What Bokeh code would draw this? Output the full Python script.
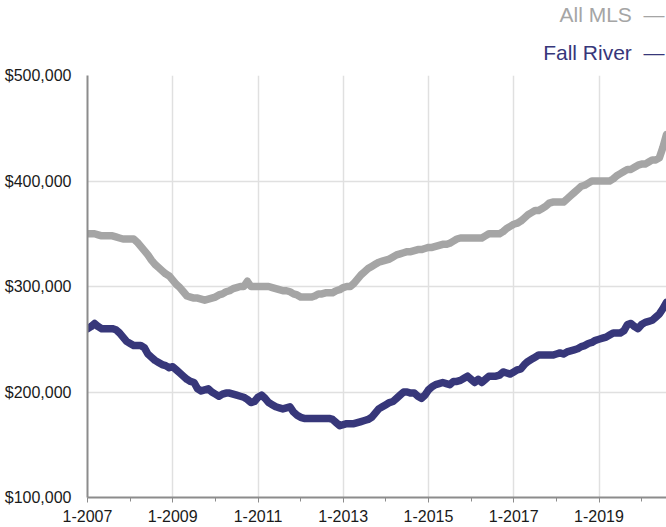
from bokeh.plotting import figure
from bokeh.models import ColumnDataSource, FixedTicker, NumeralTickFormatter, Title, Range1d
from bokeh.embed import file_html
from bokeh.resources import INLINE

# Monthly median price (thousands of $), Jan 2007 .. Aug 2020
all_mls_k = [
    350, 350, 350, 349, 348, 348, 348, 348, 347, 346, 345, 345,
    345, 345, 342, 338, 334, 330, 325, 321, 318, 315, 312, 310,
    306, 302, 299, 295, 291, 290, 289, 289, 288, 287, 288, 289,
    290, 292, 293, 295, 296, 298, 299, 300, 300, 305, 300, 300,
    300, 300, 300, 300, 299, 298, 297, 296, 296, 295, 293, 292,
    290, 290, 290, 290, 291, 293, 293, 294, 294, 294, 296, 297,
    299, 300, 300, 303, 307, 311, 314, 317, 319, 321, 323, 324,
    325, 326, 328, 330, 331, 332, 333, 333, 334, 335, 335, 336,
    337, 337, 338, 339, 340, 340, 341, 343, 345, 346, 346, 346,
    346, 346, 346, 346, 348, 350, 350, 350, 350, 352, 355, 357,
    359, 360, 362, 365, 368, 370, 372, 372, 374, 376, 379, 380,
    380, 380, 380, 383, 386, 389, 392, 395, 396, 398, 400, 400,
    400, 400, 400, 400, 402, 405, 407, 409, 411, 411, 413, 415,
    416, 416, 418, 420, 420, 422, 432, 444,
]
fall_river_k = [
    260, 262, 265, 262, 260, 260, 260, 260, 259, 256, 252, 248,
    246, 244, 244, 244, 242, 236, 233, 230, 228, 226, 225, 223,
    224, 221, 218, 215, 212, 210, 209, 203, 201, 202, 203, 200,
    198, 196, 198, 199, 199, 198, 197, 196, 195, 193, 190, 191,
    195, 197, 194, 190, 188, 186, 185, 184, 185, 186, 181, 178,
    176, 175, 175, 175, 175, 175, 175, 175, 175, 174, 171, 168,
    169, 170, 170, 170, 171, 172, 173, 174, 176, 180, 184, 186,
    188, 190, 191, 194, 197, 200, 200, 199, 199, 196, 194, 197,
    202, 205, 207, 208, 209, 208, 207, 210, 210, 211, 213, 215,
    212, 209, 212, 209, 212, 215, 215, 215, 216, 219, 218, 217,
    219, 221, 222, 226, 229, 231, 233, 235, 235, 235, 235, 235,
    236, 237, 236, 238, 239, 240, 241, 243, 244, 246, 247, 249,
    250, 251, 252, 254, 256, 256, 256, 258, 264, 265, 262, 260,
    264, 266, 267, 268, 271, 274, 279, 285,
]
month_index = list(range(len(all_mls_k)))
tick_months = [0, 24, 48, 72, 96, 120, 144]
tick_labels = ["1-2007", "1-2009", "1-2011", "1-2013", "1-2015", "1-2017", "1-2019"]
minor_months = [12, 36, 60, 84, 108, 132, 156]
y_ticks = [100000, 200000, 300000, 400000, 500000]
series_names = ["All MLS", "Fall River"]

GRAY = "#a5a5a5"
NAVY = "#37377a"
FONT = "Liberation Sans"

source = ColumnDataSource(data=dict(
    month=month_index,
    all_mls=[v * 1000 for v in all_mls_k],
    fall_river=[v * 1000 for v in fall_river_k],
))

p = figure(width=666, height=527, output_backend="svg", toolbar_location=None,
           x_range=Range1d(0, month_index[-1]), y_range=Range1d(100000, 500000),
           min_border_left=87, min_border_right=0, min_border_top=74, min_border_bottom=30)
p.outline_line_color = None
p.background_fill_color = "white"
p.border_fill_color = "white"

p.line("month", "all_mls", source=source, color=GRAY, line_width=7.5, line_join="round", line_cap="round")
p.line("month", "fall_river", source=source, color=NAVY, line_width=7.5, line_join="round", line_cap="round")

# x axis
p.xaxis.ticker = FixedTicker(ticks=tick_months, minor_ticks=minor_months)
p.xaxis.major_label_overrides = {m: t for m, t in zip(tick_months, tick_labels)}
p.xaxis.major_tick_out = 5
p.xaxis.major_tick_in = 0
p.xaxis.minor_tick_out = 4
p.xaxis.minor_tick_in = 0
p.xaxis.major_label_standoff = 7
# y axis
p.yaxis.ticker = FixedTicker(ticks=y_ticks)
p.yaxis.formatter = NumeralTickFormatter(format="$0,0")
p.yaxis.major_tick_out = 0
p.yaxis.major_tick_in = 0
p.yaxis.minor_tick_out = 0
p.yaxis.minor_tick_in = 0
p.yaxis.major_label_standoff = 16

for ax in (p.xaxis, p.yaxis):
    ax.axis_line_color = "#8c8c8c"
    ax.axis_line_width = 2
    ax.major_tick_line_color = "#8c8c8c"
    ax.minor_tick_line_color = "#8c8c8c"
    ax.major_label_text_font = FONT
    ax.major_label_text_font_size = "16px"
    ax.major_label_text_color = "#1a1a1a"

p.xgrid.ticker = FixedTicker(ticks=tick_months)
p.ygrid.ticker = FixedTicker(ticks=y_ticks)
p.grid.grid_line_color = "#e0e0e0"
p.grid.grid_line_width = 1.5

# legend texts above the frame (nearest to the frame added first)
GAP = "\u00a0\u00a0"
for name, col, so in ((series_names[1], NAVY, 24), (series_names[0], GRAY, 1)):
    p.add_layout(Title(text=name + GAP + "\u2014", align="right", offset=2, standoff=so,
                       text_font=FONT, text_font_size="21px", text_font_style="normal",
                       text_color=col), "above")

open("out.html", "w").write(file_html(p, INLINE))
